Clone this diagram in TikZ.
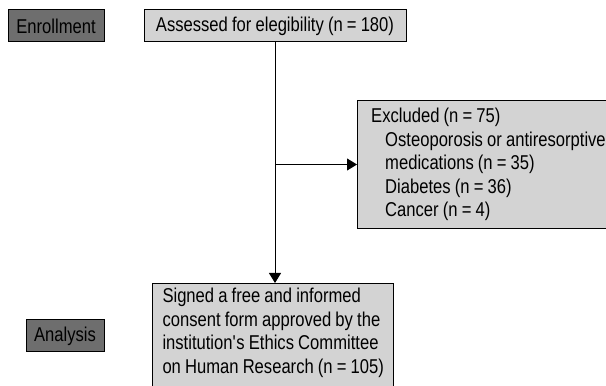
\documentclass[tikz,border=0pt]{standalone}
\usepackage{fontspec}
\setmainfont{Liberation Sans}[FakeStretch=0.83, WordSpace=0.9]
\usetikzlibrary{positioning,arrows.meta}
\definecolor{phasegray}{HTML}{6E6E6E}
\definecolor{boxgray}{HTML}{D3D3D3}

\begin{document}
\begin{tikzpicture}[
    x=1pt, y=1pt,
    >={Triangle[length=10pt,width=12pt]},
    phase/.style={
        rectangle, draw, fill=phasegray, line width=1pt,
        minimum height=32pt, inner sep=0pt,
        font=\fontsize{20}{23.5}\selectfont
    },
    box/.style={
        rectangle, draw, fill=boxgray, line width=1pt,
        minimum height=32pt, inner sep=0pt,
        font=\fontsize{20}{23.5}\selectfont
    },
    listbox/.style={
        rectangle, draw, fill=boxgray, line width=1pt,
        inner xsep=10pt, inner ysep=5pt, align=left,
        font=\fontsize{20}{23.5}\selectfont
    },
    arrow/.style={->, line width=1pt, draw=black}
]
\clip (0,0) rectangle (606,386);

% Phase labels
\node[phase, minimum width=96pt] (enrol) at (56,360) {Enrollment};
\node[phase, minimum width=78pt] (analysis) at (65,50) {Analysis};

% Flow nodes
\node[box, minimum width=262pt, right=39pt of enrol] (assess) {Assessed for elegibility (n = 180)};
\node[listbox, anchor=north west, minimum width=262pt, minimum height=128pt] (excl) at (357,286)
    {Excluded (n = 75)\\
     \hspace*{14pt}Osteoporosis or antiresorptive\\
     \hspace*{14pt}medications (n = 35)\\
     \hspace*{14pt}Diabetes (n = 36)\\
     \hspace*{14pt}Cancer (n = 4)};
\node[listbox, anchor=north west] (consent) at (152,103)
    {Signed a free and informed\\
     consent form approved by the\\
     institution\textquotesingle s Ethics Committee\\
     on Human Research (n = 105)\\
     \strut};

% Flow arrows
\coordinate (split) at (assess.south |- excl.west);
\draw[arrow] (assess.south) -- (assess.south |- consent.north);
\draw[arrow] (split) -- (excl.west);

\end{tikzpicture}
\end{document}
